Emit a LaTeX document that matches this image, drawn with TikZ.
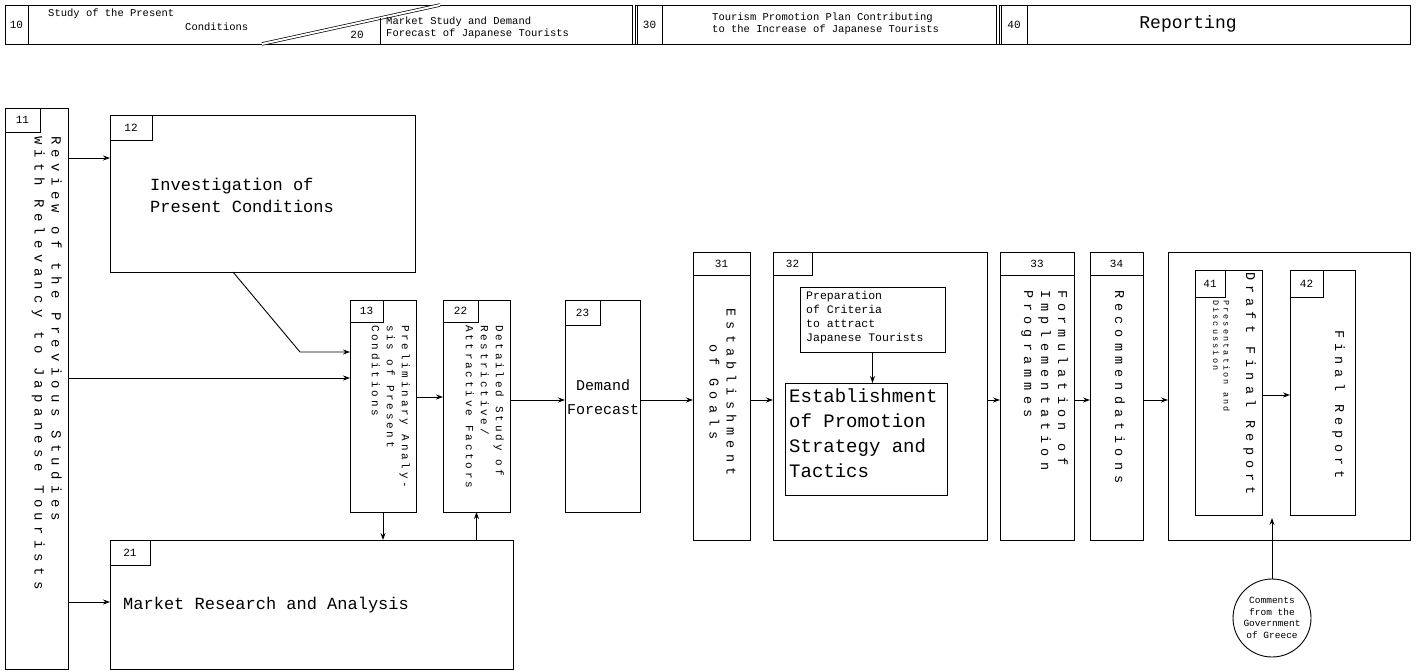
\documentclass[tikz,border=0pt]{standalone}
\usepackage{fontspec}
\usetikzlibrary{arrows.meta}
\newfontfamily\tw{Liberation Mono}
\newfontfamily\twb[LetterSpace=38]{Liberation Mono}
\newfontfamily\twt[LetterSpace=25]{Liberation Mono}
\newcommand\fsz[2]{\fontsize{#1}{#2}\selectfont}
\newcommand\mybox[6][]{\node[box,#1,minimum width={#5-#3},minimum height={#6-#4}] (#2) at (#3,#4) {};}
\begin{document}
\begin{tikzpicture}[x=1pt,y=-1pt,
 box/.style={draw,line width=1pt,inner sep=0pt,outer sep=0pt,anchor=north west},
 arr/.style={line width=0.9pt,-{Stealth[length=7pt,width=5pt]}},
 ln/.style={line width=0.9pt},
 dbl/.style={line width=0.7pt,double,double distance=2pt},
 lbl/.style={font=\tw\fsz{11}{12},inner sep=0pt},
 toptxt/.style={font=\tw\fsz{10.5}{12},inner sep=0pt,anchor=west},
 rot/.style={rotate=-90,inner sep=0pt,align=left,anchor=north west},
 rotbig/.style={rot,font=\twb\fsz{13.5}{17}},
 rotsmall/.style={rot,font=\twt\fsz{11}{15}},
 big/.style={font=\tw\fsz{17}{22},inner sep=0pt,align=left,anchor=north west},
]
\useasboundingbox (0,0) rectangle (1419,672);
\fill[white] (0,0) rectangle (1419,672);
% ---------- top bar ----------
\mybox{bar}{5}{5}{1410}{44}
\mybox{n10}{5}{5}{28}{44}
\node[lbl] (t10) at (n10.center) {10};
\node[toptxt] (t10a) at (48,14) {Study of the Present};
\node[toptxt] (t10b) at (185,27) {Conditions};
\coordinate (dA) at (262,44);
\coordinate (dB) at (440,5);
\draw[dbl] (dA) -- (dB);
\node[lbl] (t20) at (357,35) {20};
\coordinate (v20) at (380,18);
\draw[ln] (v20) -- (v20 |- bar.south);
\node[toptxt] (t20a) at (386,22) {Market Study and Demand};
\node[toptxt] (t20b) at (386,34) {Forecast of Japanese Tourists};
\coordinate (s30) at (634,5);
\draw[dbl] (s30) -- (s30 |- bar.south);
\mybox{n30}{637}{5}{662}{44}
\node[lbl] (t30) at (n30.center) {30};
\node[toptxt] (t30a) at (712,18) {Tourism Promotion Plan Contributing};
\node[toptxt] (t30b) at (712,30) {to the Increase of Japanese Tourists};
\coordinate (s40) at (998,5);
\draw[dbl] (s40) -- (s40 |- bar.south);
\mybox{n40}{1001}{5}{1027}{44}
\node[lbl] (t40) at (n40.center) {40};
\node[font=\tw\fsz{18}{19},inner sep=0pt] (t40a) at (1188,24) {Reporting};
% ---------- left column ----------
\mybox{b11}{5}{108}{68}{669}
\mybox{n11}{5}{108}{40}{132}
\node[lbl] (l11) at (n11.center) {11};
\node[rot,font=\twb\fsz{14}{17}] (t11) at (62,136) {Review of the Previous Studies\\with Relevancy to Japanese Tourists};
\mybox{b12}{110}{115}{415}{272}
\mybox{n12}{110}{115}{152}{140}
\node[lbl] (l12) at (n12.center) {12};
\node[big] (t12) at (150,178) {Investigation of\\Present Conditions};
\mybox{b21}{110}{540}{513}{669}
\mybox{n21}{110}{540}{150}{565}
\node[lbl] (l21) at (n21.center) {21};
\node[font=\tw\fsz{17}{22},inner sep=0pt,anchor=west] (t21) at (123,605) {Market Research and Analysis};
\mybox{b13}{350}{300}{416}{512}
\mybox{n13}{350}{300}{383}{322}
\node[lbl] (l13) at (n13.center) {13};
\node[rotsmall] (t13) at (410,325) {Preliminary Analy-\\sis of Present\\Conditions};
\mybox{b22}{443}{300}{510}{512}
\mybox{n22}{443}{300}{478}{322}
\node[lbl] (l22) at (n22.center) {22};
\node[rotsmall] (t22) at (504,325) {Detailed Study of\\Restrictive/\\Attractive Factors};
\mybox{b23}{565}{300}{640}{512}
\mybox{n23}{565}{300}{600}{325}
\node[lbl] (l23) at (n23.center) {23};
\node[font=\tw\fsz{15}{24},align=center,inner sep=0pt] (t23) at (603,397) {Demand\\Forecast};
% ---------- 30 group ----------
\mybox{b31}{693}{252}{750}{540}
\draw[ln] (b31.west |- 0,275) -- (b31.east |- 0,275);
\node[lbl] (l31) at ([yshift=-12pt]b31.north) {31};
\node[rotbig,anchor=center,align=center] (t31) at (723,392) {Establishment\\of Goals};
\mybox{b32}{773}{252}{987}{540}
\mybox{n32}{773}{252}{812}{275}
\node[lbl] (l32) at (n32.center) {32};
\mybox{prep}{800}{287}{945}{352}
\node[font=\tw\fsz{11.5}{14},align=left,anchor=north west,inner sep=0pt] (tprep) at (806,291) {Preparation\\of Criteria\\to attract\\Japanese Tourists};
\mybox{est}{785}{383}{947}{495}
\node[font=\tw\fsz{19}{25},align=left,anchor=north west,inner sep=0pt] (test) at (789,389) {Establishment\\of Promotion\\Strategy and\\Tactics};
\draw[arr] (prep.south) -- (prep.south |- est.north);
\mybox{b33}{1000}{252}{1074}{540}
\draw[ln] (b33.west |- 0,275) -- (b33.east |- 0,275);
\node[lbl] (l33) at ([yshift=-12pt]b33.north) {33};
\node[rotbig] (t33) at (1068,290) {Formulation of\\Implementation\\Programmes};
\mybox{b34}{1090}{252}{1143}{540}
\draw[ln] (b34.west |- 0,275) -- (b34.east |- 0,275);
\node[lbl] (l34) at ([yshift=-12pt]b34.north) {34};
\node[rotbig] (t34) at (1125,290) {Recommendations};
% ---------- 40 group ----------
\mybox{f4}{1168}{252}{1410}{540}
\mybox{b41}{1195}{270}{1262}{515}
\mybox{n41}{1195}{270}{1225}{297}
\node[lbl] (l41) at (n41.center) {41};
\node[rotbig] (t41) at (1256,272) {Draft Final Report};
\node[rot,font=\twt\fsz{8.5}{10.5}] (t41b) at (1230,300) {Presentation and\\Discussion};
\mybox{b42}{1290}{270}{1355}{515}
\mybox{n42}{1290}{270}{1323}{297}
\node[lbl] (l42) at (n42.center) {42};
\node[rotbig] (t42) at (1345,330) {Final Report};
\node[draw,circle,line width=0.9pt,minimum size=78pt,inner sep=0pt,align=center,font=\tw\fsz{9.5}{11.5}] (cm) at (1272,618) {Comments\\from the\\Government\\of Greece};
\coordinate (cmend) at (1272,518);
\draw[arr] (cm.north) -- (cmend);
% ---------- connectors ----------
\draw[arr] (b11.east |- 0,158) -- (b12.west |- 0,158);
\draw[arr] (b11.east |- 0,378) -- (b13.west |- 0,378);
\draw[arr] (b11.east |- 0,602) -- (b21.west |- 0,602);
\coordinate (k12) at (300,352);
\draw[arr] (b12.south -| 233,0) -- (k12) -- (b13.west |- k12);
\draw[arr] (b13.east |- 0,397) -- (b22.west |- 0,397);
\draw[arr] (b13.south) -- (b13.south |- b21.north);
\draw[arr] (b22.south |- b21.north) -- (b22.south);
\draw[arr] (b22.east |- 0,400) -- (b23.west |- 0,400);
\draw[arr] (b23.east |- 0,400) -- (b31.west |- 0,400);
\draw[arr] (b31.east |- 0,400) -- (b32.west |- 0,400);
\draw[arr] (b32.east |- 0,400) -- (b33.west |- 0,400);
\draw[arr] (b33.east |- 0,400) -- (b34.west |- 0,400);
\draw[arr] (b34.east |- 0,400) -- (f4.west |- 0,400);
\draw[arr] (b41.east |- 0,395) -- (b42.west |- 0,395);
\end{tikzpicture}
\end{document}
